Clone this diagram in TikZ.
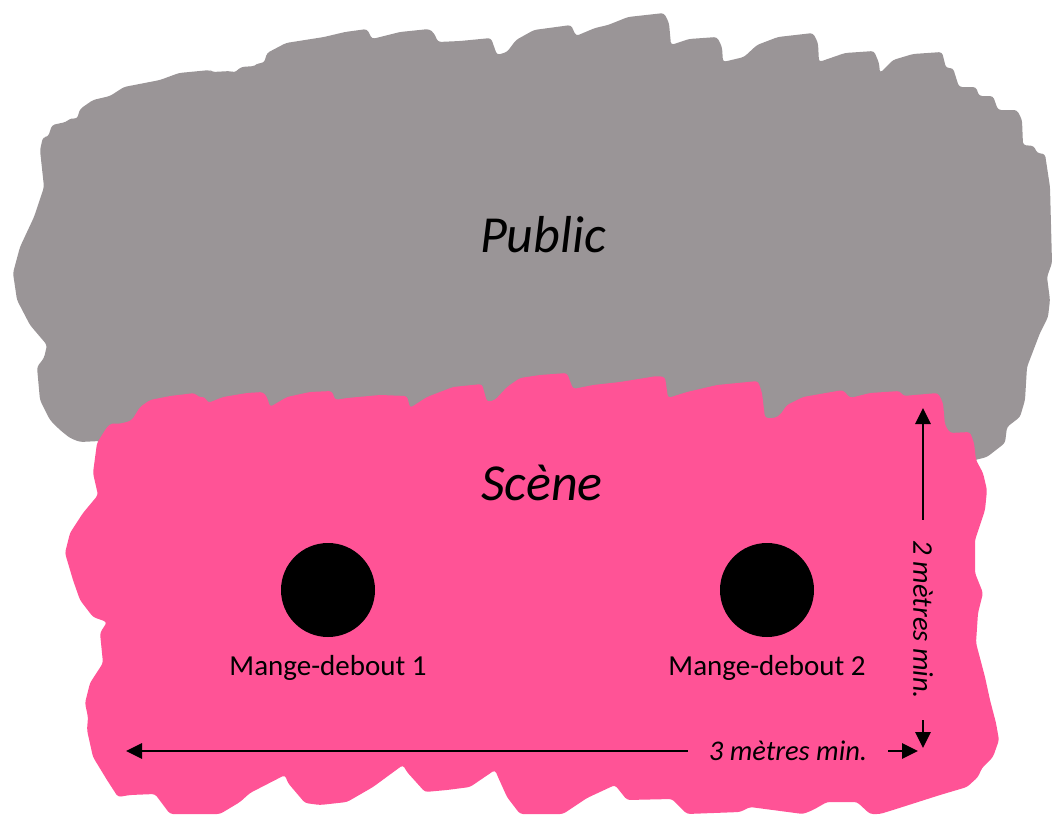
\documentclass[tikz,border=0pt]{standalone}
\usepackage{fontspec}
\setmainfont{Carlito}
\usetikzlibrary{arrows.meta}
\definecolor{publicgray}{RGB}{154,149,151}
\definecolor{scenepink}{RGB}{255,83,150}
\tikzset{
  blob/.style={draw=none, rounded corners=3pt},
  bigtitle/.style={font=\fontsize{52}{62}\selectfont\itshape, inner sep=0pt},
  tablelabel/.style={font=\fontsize{29}{35}\selectfont, inner sep=0pt},
  table/.style={circle, fill=black, minimum size=94pt, inner sep=0pt},
  dimlabel/.style={font=\fontsize{28.5}{34}\selectfont\itshape, inner ysep=0pt, inner xsep=21pt},
  dimline/.style={line width=2.8pt, -{Triangle[length=16pt,width=15pt]}}
}
\begin{document}
\begin{tikzpicture}[x=1pt,y=-1pt]
\useasboundingbox (0,0) rectangle (1052,814);
% Public area
\fill[publicgray, blob] (100,441) -- (80,442) -- (70,438) -- (60,430) -- (50,420) -- (40,400) -- (37,367) -- (44,358) -- (47,345) -- (30,325) -- (17,300) -- (13,273) -- (20,247) -- (34,217) -- (44,187) -- (40,150) -- (43,137) -- (48,137) -- (52,125) -- (66,122) -- (71,118) -- (77,119) -- (80,109) -- (93,100) -- (110,96) -- (124,87) -- (160,80) -- (179,73) -- (210,70) -- (212,72) -- (231,71) -- (234,73) -- (241,67) -- (255,66) -- (258,63) -- (264,63) -- (267,53) -- (286,43) -- (324,37) -- (345,32) -- (367,29) -- (372,39) -- (400,32) -- (429,29) -- (434,33) -- (438,42) -- (460,41) -- (491,38) -- (497,55) -- (507,52) -- (516,40) -- (534,30) -- (571,25) -- (576,36) -- (595,28) -- (608,25) -- (628,17) -- (664,13) -- (669,23) -- (671,45) -- (689,39) -- (717,37) -- (722,47) -- (723,62) -- (744,57) -- (757,45) -- (778,37) -- (813,33) -- (818,43) -- (819,62) -- (845,53) -- (874,51) -- (879,63) -- (880,73) -- (893,60) -- (913,54) -- (942,52) -- (946,68) -- (953,68) -- (959,87) -- (976,87) -- (979,96) -- (993,96) -- (998,110) -- (1017,110) -- (1022,120) -- (1023,145) -- (1034,146) -- (1037,153) -- (1045,154) -- (1050,187) -- (1052,263) -- (1047,277) -- (1050,300) -- (1048,317) -- (1040,333) -- (1027,367) -- (1025,400) -- (1020,417) -- (1007,427) -- (1005,443) -- (987,457) -- (975,460) -- (900,490) -- (150,490) -- cycle;
% Scene area
\fill[scenepink, blob] (97,443) -- (107,427) -- (112,423) -- (118,424) -- (127,422) -- (132,420) -- (140,407) -- (150,400) -- (170,396) -- (195,393) -- (198,397) -- (205,397) -- (208,403) -- (223,397) -- (247,393) -- (263,392) -- (267,397) -- (270,407) -- (287,397) -- (310,392) -- (332,391) -- (335,400) -- (347,398) -- (380,395) -- (407,396) -- (410,408) -- (427,397) -- (453,387) -- (482,384) -- (487,402) -- (495,400) -- (507,387) -- (520,378) -- (540,375) -- (567,373) -- (573,389) -- (593,385) -- (620,382) -- (657,376) -- (665,377) -- (668,398) -- (687,392) -- (717,385) -- (758,381) -- (762,393) -- (765,418) -- (775,418) -- (780,415) -- (787,405) -- (803,397) -- (843,390) -- (850,398) -- (870,393) -- (900,391) -- (903,396) -- (938,393) -- (943,403) -- (945,425) -- (950,433) -- (970,432) -- (974,443) -- (976,460) -- (983,473) -- (987,490) -- (985,510) -- (975,540) -- (975,573) -- (983,593) -- (978,613) -- (976,643) -- (985,677) -- (990,700) -- (996,723) -- (999,740) -- (993,757) -- (982,768) -- (978,777) -- (967,787) -- (940,795) -- (893,810) -- (880,814) -- (870,814) -- (857,802) -- (827,802) -- (813,810) -- (803,814) -- (750,807) -- (740,812) -- (687,814) -- (672,799) -- (627,800) -- (615,785) -- (587,798) -- (563,814) -- (520,814) -- (507,797) -- (498,777) -- (495,770) -- (470,787) -- (447,790) -- (425,792) -- (407,772) -- (403,765) -- (373,787) -- (347,802) -- (320,805) -- (305,803) -- (288,783) -- (285,775) -- (250,793) -- (240,802) -- (220,814) -- (170,814) -- (155,794) -- (130,795) -- (118,797) -- (107,780) -- (93,757) -- (87,730) -- (88,717) -- (85,703) -- (90,683) -- (103,663) -- (102,653) -- (100,633) -- (107,622) -- (93,617) -- (80,600) -- (73,580) -- (65,553) -- (70,533) -- (83,513) -- (98,495) -- (93,473) -- cycle;
% Titles
\node[bigtitle] (public) at (543,235) {Public};
\node[bigtitle] (scene) at (542,483) {Scène};
% Tables
\node[table] (t1) at (328,590) {};
\node[table] (t2) at (767,590) {};
\node[tablelabel] (l1) at (328,668) {Mange-debout 1};
\node[tablelabel] (l2) at (767,668) {Mange-debout 2};
% Dimensions
\coordinate (hL) at (126,751);
\coordinate (hR) at (918,751);
\coordinate (vT) at (923,408);
\coordinate (vB) at (923,748);
\node[dimlabel] (hlab) at (788,751) {3 mètres min.};
\node[dimlabel, rotate=-90] (vlab) at (923,620) {2 mètres min.};
\draw[dimline] (hlab.west) -- (hL);
\draw[dimline] (hlab.east) -- (hR);
\draw[dimline] (vlab.west) -- (vT);
\draw[dimline] (vlab.east) -- (vB);
\end{tikzpicture}
\end{document}
